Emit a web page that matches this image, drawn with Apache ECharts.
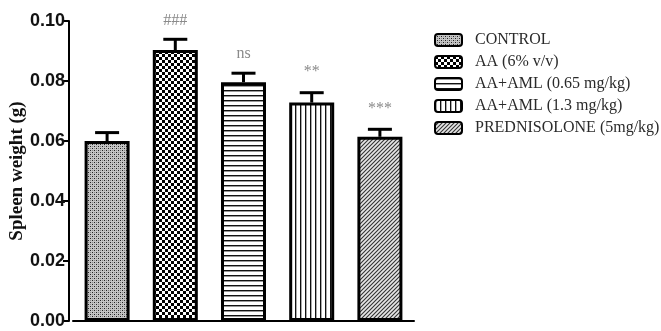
<!DOCTYPE html>
<html>
<head>
<meta charset="utf-8">
<script src="https://cdn.jsdelivr.net/npm/echarts@6/dist/echarts.min.js"></script>
<style>
  html, body { margin: 0; padding: 0; background: #fff; }
  #chart { width: 661px; height: 331px; }
</style>
</head>
<body>
<div id="chart"></div>
<script>
// Groups, mean spleen weight (g), SEM and significance marks
const groups = ['CONTROL', 'AA (6% v/v)', 'AA+AML (0.65 mg/kg)', 'AA+AML (1.3 mg/kg)', 'PREDNISOLONE (5mg/kg)'];
const meanWeight = [0.0600, 0.0903, 0.0796, 0.0728, 0.0614];
const semWeight = [0.0028, 0.0036, 0.0030, 0.0033, 0.0025];
const marks = ['', '###', 'ns', '**', '***'];
const yTicks = [0, 0.02, 0.04, 0.06, 0.08, 0.10];

// Fill patterns for each group
function tile(w, h, draw) {
  const c = document.createElement('canvas');
  c.width = w; c.height = h;
  const ctx = c.getContext('2d');
  draw(ctx, w, h);
  return { image: c, repeat: 'repeat' };
}
const patterns = [
  tile(4, 4, (ctx) => {
    ctx.fillStyle = '#c4c4c4'; ctx.fillRect(0, 0, 4, 4);
    ctx.fillStyle = '#222'; ctx.fillRect(0, 0, 1, 1); ctx.fillRect(2, 2, 1, 1);
    ctx.fillStyle = '#888'; ctx.fillRect(2, 0, 1, 1); ctx.fillRect(0, 2, 1, 1);
  }),
  tile(6, 6, (ctx) => {
    ctx.fillStyle = '#fff'; ctx.fillRect(0, 0, 6, 6);
    ctx.fillStyle = '#000'; ctx.fillRect(0, 0, 3, 3); ctx.fillRect(3, 3, 3, 3);
  }),
  tile(5, 5, (ctx) => {
    ctx.fillStyle = '#fff'; ctx.fillRect(0, 0, 5, 5);
    ctx.fillStyle = '#111'; ctx.fillRect(0, 0, 5, 1);
    ctx.fillStyle = '#999'; ctx.fillRect(0, 1, 5, 1);
  }),
  tile(5, 5, (ctx) => {
    ctx.fillStyle = '#fff'; ctx.fillRect(0, 0, 5, 5);
    ctx.fillStyle = '#111'; ctx.fillRect(0, 0, 1, 5);
    ctx.fillStyle = '#aaa'; ctx.fillRect(1, 0, 1, 5);
  }),
  tile(4, 4, (ctx) => {
    ctx.fillStyle = '#e6e6e6'; ctx.fillRect(0, 0, 4, 4);
    ctx.strokeStyle = '#333'; ctx.lineWidth = 1.1;
    ctx.beginPath();
    ctx.moveTo(-1, 5); ctx.lineTo(5, -1);
    ctx.moveTo(-1, 1); ctx.lineTo(1, -1);
    ctx.moveTo(3, 5); ctx.lineTo(5, 3);
    ctx.stroke();
  })
];

// One bar series per group, overlapped so each sits in its own category
const barSeries = groups.map((name, i) => ({
  name: name,
  type: 'bar',
  barWidth: 45,
  barGap: '-100%',
  data: meanWeight.map((v, j) => (j === i ? v : '-')),
  itemStyle: { color: patterns[i], borderColor: '#000', borderWidth: 3 },
  emphasis: { disabled: true },
  z: 3
}));

// Upper error bars with caps and significance marks
const errorSeries = {
  type: 'custom',
  name: 'sem',
  z: 2,
  data: meanWeight.map((v, i) => [i, v, v + semWeight[i], marks[i]]),
  renderItem: function (params, api) {
    const base = api.coord([api.value(0), api.value(1)]);
    const top = api.coord([api.value(0), api.value(2)]);
    const half = 12;
    const style = { stroke: '#000', lineWidth: 3 };
    const children = [
      { type: 'line', shape: { x1: base[0], y1: base[1], x2: top[0], y2: top[1] }, style: style },
      { type: 'line', shape: { x1: top[0] - half, y1: top[1], x2: top[0] + half, y2: top[1] }, style: style }
    ];
    const mark = marks[params.dataIndex];
    if (mark) {
      const isStar = mark.indexOf('*') >= 0;
      children.push({
        type: 'text',
        x: top[0],
        y: top[1] - (isStar ? 13 : 11),
        style: {
          text: mark,
          align: 'center',
          verticalAlign: 'bottom',
          fill: '#8a8a8a',
          font: '16px "Liberation Serif", "Times New Roman", serif'
        }
      });
    }
    return { type: 'group', children: children };
  }
};

const chart = echarts.init(document.getElementById('chart'), null, { renderer: 'canvas' });
chart.setOption({
  animation: false,
  backgroundColor: '#fff',
  grid: { left: 73, right: 247, top: 21, bottom: 10, containLabel: false, outerBoundsMode: 'none' },
  legend: {
    orient: 'vertical',
    left: 429,
    top: 27,
    padding: 5,
    itemWidth: 27,
    itemHeight: 12,
    itemGap: 6,
    selectedMode: false,
    data: groups,
    textStyle: {
      fontFamily: '"Liberation Serif", "Times New Roman", serif',
      fontSize: 16,
      color: '#2a2a2a',
      padding: [0, 0, 0, 8]
    }
  },
  xAxis: {
    type: 'category',
    data: groups,
    axisLine: { lineStyle: { color: '#000', width: 2 } },
    axisTick: { alignWithLabel: true, length: 7, inside: false, lineStyle: { color: '#000', width: 2 } },
    axisLabel: { show: false },
    splitLine: { show: false }
  },
  yAxis: {
    type: 'value',
    min: yTicks[0],
    max: yTicks[yTicks.length - 1],
    interval: 0.02,
    offset: 4,
    name: 'Spleen weight (g)',
    nameLocation: 'middle',
    nameGap: 42,
    nameMoveOverlap: false,
    nameRotate: 90,
    nameTextStyle: {
      fontFamily: '"Liberation Serif", "Times New Roman", serif',
      fontWeight: 'bold',
      fontSize: 19,
      color: '#111'
    },
    axisLine: { show: true, lineStyle: { color: '#000', width: 2 } },
    axisTick: { show: true, length: 6, lineStyle: { color: '#000', width: 2 } },
    axisLabel: {
      formatter: (v) => v.toFixed(2),
      fontFamily: '"Liberation Sans Narrow", "Arial Narrow", "Liberation Sans", sans-serif',
      fontWeight: 'bold',
      fontSize: 18,
      color: '#111',
      margin: 4
    },
    splitLine: { show: false }
  },
  series: barSeries.concat([errorSeries])
});
</script>
</body>
</html>
